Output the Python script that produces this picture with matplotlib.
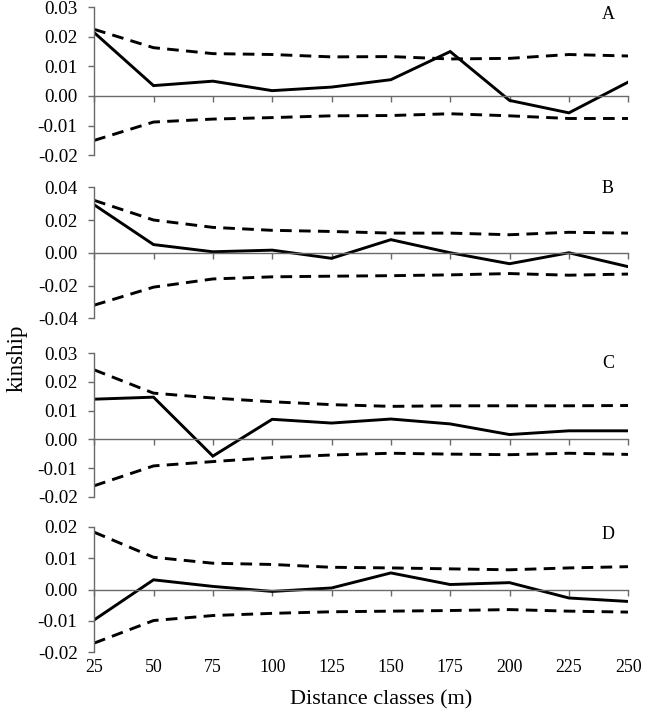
import numpy as np
import matplotlib.pyplot as plt
from matplotlib.ticker import FormatStrFormatter

plt.rcParams.update({'font.family': 'Liberation Serif', 'font.size': 13,
                     'axes.unicode_minus': False})

# Distance classes (m)
dist = [25, 50, 75, 100, 125, 150, 175, 200, 225, 250]

# Panel A
kin_a = [0.0214, 0.0035, 0.0050, 0.0018, 0.0030, 0.0055, 0.0150, -0.0015, -0.0057, 0.0047]
up_a = [0.0225, 0.0163, 0.0143, 0.0140, 0.0132, 0.0133, 0.0125, 0.0127, 0.0140, 0.0135]
lo_a = [-0.0150, -0.0088, -0.0078, -0.0073, -0.0067, -0.0066, -0.0060, -0.0067, -0.0076, -0.0076]

# Panel B
kin_b = [0.0293, 0.0050, 0.0006, 0.0016, -0.0034, 0.0080, 0.0000, -0.0067, 0.0000, -0.0085]
up_b = [0.0320, 0.0200, 0.0155, 0.0137, 0.0130, 0.0120, 0.0120, 0.0110, 0.0125, 0.0120]
lo_b = [-0.0320, -0.0210, -0.0160, -0.0147, -0.0143, -0.0140, -0.0135, -0.0127, -0.0137, -0.0130]

# Panel C
kin_c = [0.0140, 0.0147, -0.0058, 0.0070, 0.0057, 0.0071, 0.0054, 0.0017, 0.0030, 0.0030]
up_c = [0.0242, 0.0161, 0.0144, 0.0131, 0.0121, 0.0115, 0.0117, 0.0117, 0.0117, 0.0118]
lo_c = [-0.0161, -0.0092, -0.0077, -0.0063, -0.0054, -0.0048, -0.0051, -0.0053, -0.0048, -0.0052]

# Panel D
kin_d = [-0.0097, 0.0031, 0.0010, -0.0006, 0.0005, 0.0053, 0.0016, 0.0022, -0.0027, -0.0038]
up_d = [0.0183, 0.0103, 0.0084, 0.0080, 0.0071, 0.0069, 0.0066, 0.0063, 0.0069, 0.0073]
lo_d = [-0.0171, -0.0099, -0.0083, -0.0076, -0.0071, -0.0069, -0.0067, -0.0064, -0.0069, -0.0072]

panels = [('A', kin_a, up_a, lo_a, (-0.02, 0.03), 0.01),
          ('B', kin_b, up_b, lo_b, (-0.04, 0.04), 0.02),
          ('C', kin_c, up_c, lo_c, (-0.02, 0.03), 0.01),
          ('D', kin_d, up_d, lo_d, (-0.02, 0.02), 0.01)]

# axes boxes in figure fraction [left, bottom, width, height]
boxes = [[0.146, 0.782, 0.828, 0.208],
         [0.146, 0.553, 0.828, 0.184],
         [0.146, 0.302, 0.828, 0.202],
         [0.146, 0.084, 0.828, 0.176]]
letter_y = [0.953, 0.99, 0.93, 0.936]

fig = plt.figure(figsize=(6.45, 7.12), dpi=100)
grey = '#6a6a6a'

for i, (name, kin, up, lo, lim, step) in enumerate(panels):
    ax = fig.add_axes(boxes[i])
    ax.plot(dist, kin, color='black', lw=2.1, solid_joinstyle='miter')
    ax.plot(dist, up, color='black', lw=2.1, dashes=(4, 2.5))
    ax.plot(dist, lo, color='black', lw=2.1, dashes=(4, 2.5))

    ax.set_xlim(25, 250)
    ax.set_ylim(*lim)
    ax.set_yticks(np.arange(lim[0], lim[1] + step / 2, step))
    ax.yaxis.set_major_formatter(FormatStrFormatter('%.2f'))
    ax.set_xticks(dist)

    for s in ['top', 'right']:
        ax.spines[s].set_visible(False)
    ax.spines['bottom'].set_position(('data', 0))
    ax.spines['left'].set_color(grey)
    ax.spines['bottom'].set_color(grey)
    ax.spines['left'].set_linewidth(1.0)
    ax.spines['bottom'].set_linewidth(1.0)
    ax.tick_params(axis='y', direction='out', length=4, width=1, color=grey, pad=8, labelsize=13.8)
    ax.tick_params(axis='x', direction='out', length=4, width=1, color=grey, labelbottom=False)

    ax.text(0.962, letter_y[i], name, transform=ax.transAxes, ha='center', va='center', fontsize=13)

    if name == 'D':
        sec = ax.secondary_xaxis('bottom')
        sec.set_xticks(dist)
        sec.spines['bottom'].set_visible(False)
        sec.tick_params(axis='x', length=0, pad=5, labelsize=12.8)

fig.text(0.027, 0.497, 'kinship', rotation=90, ha='center', va='center', fontsize=16.5)
fig.text(0.591, 0.017, 'Distance classes (m)', ha='center', va='center', fontsize=16)

plt.savefig('out.png', dpi=100)
